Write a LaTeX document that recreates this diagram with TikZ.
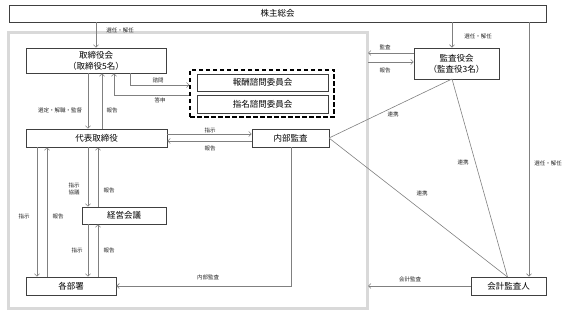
\documentclass[tikz,border=0pt]{standalone}
\usepackage{fontspec}
\setmainfont{Noto Sans CJK JP}
\usetikzlibrary{arrows.meta}
\definecolor{lgray}{HTML}{D9D9D9}
\definecolor{lncol}{HTML}{808080}
\definecolor{bdcol}{HTML}{404040}
\tikzset{
  box/.style={draw=bdcol, line width=0.8pt, fill=white, inner sep=0pt, align=center, font=\fontsize{8.5}{11}\selectfont},
  arr/.style={draw=lncol, line width=0.6pt, -{Straight Barb[length=2.5pt,width=5pt]}},
  ln/.style={draw=lncol, line width=0.6pt},
  lbl/.style={inner sep=0pt, align=center, font=\fontsize{5.5}{7}\selectfont, text=black!85},
}
\begin{document}
\begin{tikzpicture}[x=1pt,y=-1pt]
\useasboundingbox (0,0) rectangle (571,313);
% organisation frame
\node[draw=lgray, line width=3pt, minimum width=359pt, minimum height=275pt, inner sep=0pt] (org) at (187.5,170.5) {};
% boxes
\node[box, minimum width=537pt, minimum height=17pt] (kabu) at (277.5,13.5) {株主総会};
\node[box, minimum width=140pt, minimum height=25pt] (tori) at (96,60.5) {取締役会\\（取締役5名）};
\node[draw=black, dash pattern=on 4.5pt off 2.5pt, line width=1.2pt, minimum width=144pt, minimum height=47pt, inner sep=0pt] (dash) at (262,93.5) {};
\node[box, minimum width=131pt, minimum height=17pt] (hoshu) at (262.5,82.5) {報酬諮問委員会};
\node[box, minimum width=131pt, minimum height=18pt] (shimei) at (262.5,104) {指名諮問委員会};
\node[box, minimum width=141pt, minimum height=18pt] (daihyo) at (96.5,138) {代表取締役};
\node[box, minimum width=77pt, minimum height=18pt] (naibu) at (290.5,138) {内部監査};
\node[box, minimum width=84pt, minimum height=17pt] (keiei) at (124,215.5) {経営会議};
\node[box, minimum width=90pt, minimum height=18pt] (kakubu) at (71,286) {各部署};
\node[box, minimum width=85pt, minimum height=31pt] (kansa) at (456.5,63.5) {監査役会\\（監査役3名）};
\node[box, minimum width=75pt, minimum height=18pt] (kaikei) at (508.5,286) {会計監査人};
% coordinates
\coordinate (ks) at (452,79);
\coordinate (ne) at (329,138);
\coordinate (kt) at (507.5,277);
% shareholders
\draw[arr] (kabu.south -| 96,0) -- (tori.north);
\node[lbl] (l1) at (120,30) {選任・解任};
\draw[arr] (kabu.south -| 452,0) -- (kansa.north -| 452,0);
\node[lbl] (l2) at (478,36) {選任・解任};
\draw[arr] (kabu.south -| 529,0) -- (kaikei.north -| 529,0);
\node[lbl] (l3) at (548,163) {選任・解任};
% board <-> representative
\draw[arr] (tori.south -| 88,0) -- (daihyo.north -| 88,0);
\node[lbl] (l4) at (60,110) {選定・解職・監督};
\draw[arr] (daihyo.north -| 102,0) -- (tori.south -| 102,0);
\node[lbl] (l5) at (112,110) {報告};
% advisory
\draw[arr] (tori.south -| 130,0) -- (130,85) -- (dash.west |- 0,85);
\node[lbl] (l6) at (158,80) {諮問};
\draw[arr] (dash.west |- 0,95) -- (114,95) -- (tori.south -| 114,0);
\node[lbl] (l7) at (160,100) {答申};
% representative <-> internal audit
\draw[arr] (daihyo.east |- 0,134) -- (naibu.west |- 0,134);
\node[lbl] (l8) at (210,130) {指示};
\draw[arr] (naibu.west |- 0,141) -- (daihyo.east |- 0,141);
\node[lbl] (l9) at (210,148) {報告};
% representative <-> management meeting
\draw[arr] (daihyo.south -| 88,0) -- (keiei.north -| 88,0);
\node[lbl] (l10) at (74,188.5) {指示\\協議};
\draw[arr] (keiei.north -| 98,0) -- (daihyo.south -| 98,0);
\node[lbl] (l11) at (109,190) {報告};
% management meeting <-> departments
\draw[arr] (keiei.south -| 88,0) -- (kakubu.north -| 88,0);
\node[lbl] (l12) at (77,250) {指示};
\draw[arr] (kakubu.north -| 98,0) -- (keiei.south -| 98,0);
\node[lbl] (l13) at (109,250) {報告};
% representative <-> departments
\draw[arr] (daihyo.south -| 37,0) -- (kakubu.north -| 37,0);
\node[lbl] (l14) at (24,216) {指示};
\draw[arr] (kakubu.north -| 47,0) -- (daihyo.south -| 47,0);
\node[lbl] (l15) at (58,216) {報告};
% internal audit -> departments
\draw[arr] (naibu.south -| 291,0) -- (291,286) -- (kakubu.east);
\node[lbl] (l16) at (208,277) {内部監査};
% auditors <-> organisation
\draw[arr] (kansa.west |- 0,53) -- (368,53);
\node[lbl] (l17) at (385,47) {監査};
\draw[arr] (368,62) -- (kansa.west |- 0,62);
\node[lbl] (l18) at (385,70) {報告};
% cooperation
\draw[ln] (ks) -- (ne);
\node[lbl] (l19) at (393,114) {連携};
\draw[ln] (ks) -- (kt);
\node[lbl] (l20) at (463,162) {連携};
\draw[ln] (ne) -- (kt);
\node[lbl] (l21) at (422,193) {連携};
% accounting audit
\draw[arr] (kaikei.west) -- (368,286);
\node[lbl] (l22) at (410,279.5) {会計監査};
\end{tikzpicture}
\end{document}
